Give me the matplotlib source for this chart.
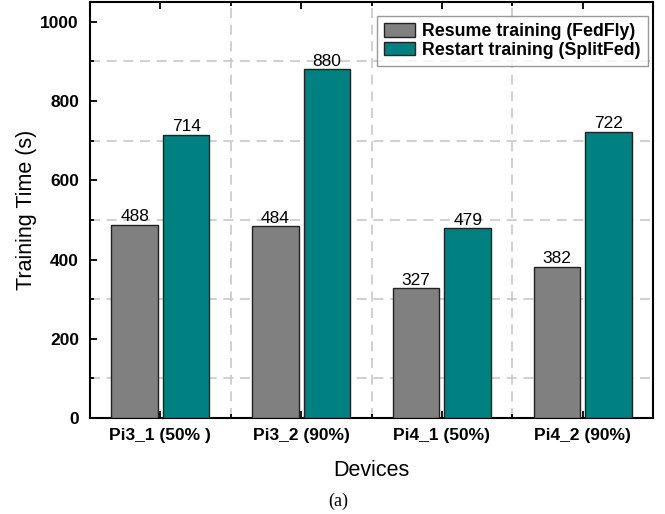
import matplotlib
matplotlib.use("Agg")
import matplotlib.pyplot as plt
import numpy as np
from matplotlib.ticker import MultipleLocator, FixedLocator

devices = ["Pi3_1 (50% )", "Pi3_2 (90%)", "Pi4_1 (50%)", "Pi4_2 (90%)"]
fedfly = [488, 484, 327, 382]
splitfed = [714, 880, 479, 722]
series_labels = ["Resume training (FedFly)", "Restart training (SplitFed)"]
colors = ["#808080", "#008080"]

plt.rcParams['font.family'] = ['Liberation Sans', 'DejaVu Sans']

fig = plt.figure(figsize=(6.65, 5.14), dpi=100)
ax = fig.add_axes([90/665, 1-418/514, 563/665, 416/514])

x = np.arange(len(devices))
w = 0.33
off = 0.183
b1 = ax.bar(x - off, fedfly, w, color=colors[0], edgecolor="#222222", linewidth=1.0,
            label=series_labels[0], zorder=3)
b2 = ax.bar(x + off, splitfed, w, color=colors[1], edgecolor="#222222", linewidth=1.0,
            label=series_labels[1], zorder=3)

for bars, vals in ((b1, fedfly), (b2, splitfed)):
    for r, v in zip(bars, vals):
        ax.annotate(str(v), (r.get_x() + r.get_width()/2, v), xytext=(0, 0.5),
                    textcoords="offset points", ha="center", va="bottom",
                    fontsize=12.5, color="black", zorder=4)

ax.set_xlim(-0.5, 3.5)
ax.set_ylim(0, 1050)
ax.set_xticks(x)
ax.set_xticklabels(devices, fontsize=12.5, fontweight="bold")
ax.xaxis.set_minor_locator(FixedLocator([0.5, 1.5, 2.5]))
ax.yaxis.set_major_locator(MultipleLocator(200))
ax.yaxis.set_minor_locator(MultipleLocator(100))
ax.tick_params(axis="both", which="both", direction="in", top=True, right=False, width=1.3)
ax.tick_params(axis="both", which="major", length=5)
ax.tick_params(axis="both", which="minor", length=3)
ax.tick_params(axis="y", which="major", pad=8)
ax.tick_params(axis="x", which="major", pad=7)
ax.set_yticks(np.arange(0, 1001, 200))
ax.set_yticklabels([str(v) for v in range(0, 1001, 200)], fontsize=12.5, fontweight="bold")

ax.grid(which="minor", axis="both", linestyle=(0, (6, 4)), color="#c8c8c8", linewidth=1.2, zorder=0)
ax.grid(which="major", visible=False)
ax.set_axisbelow(True)
for s in ax.spines.values():
    s.set_linewidth(1.5)

ax.set_ylabel("Training Time (s)", fontsize=15.5)
ax.yaxis.set_label_coords(-0.094, 0.5)
ax.set_xlabel("Devices", fontsize=15.5)
ax.xaxis.set_label_coords(0.5, -0.102)

leg = ax.legend(loc="upper right", bbox_to_anchor=(1 - 5/563, 1 - 14/416),
                prop={"weight": "bold", "size": 12.75}, frameon=True, fancybox=False,
                handlelength=1.75, handleheight=0.8, handletextpad=0.4,
                borderpad=0.4, labelspacing=0.1, borderaxespad=0)
leg.get_frame().set_edgecolor("#808080")
leg.get_frame().set_linewidth(1.0)

fig.text(338/665, 1 - 501/514, "(a)", ha="center", va="center",
         fontsize=13, family=["Liberation Serif", "DejaVu Serif"])

fig.savefig("out.png", dpi=100)
